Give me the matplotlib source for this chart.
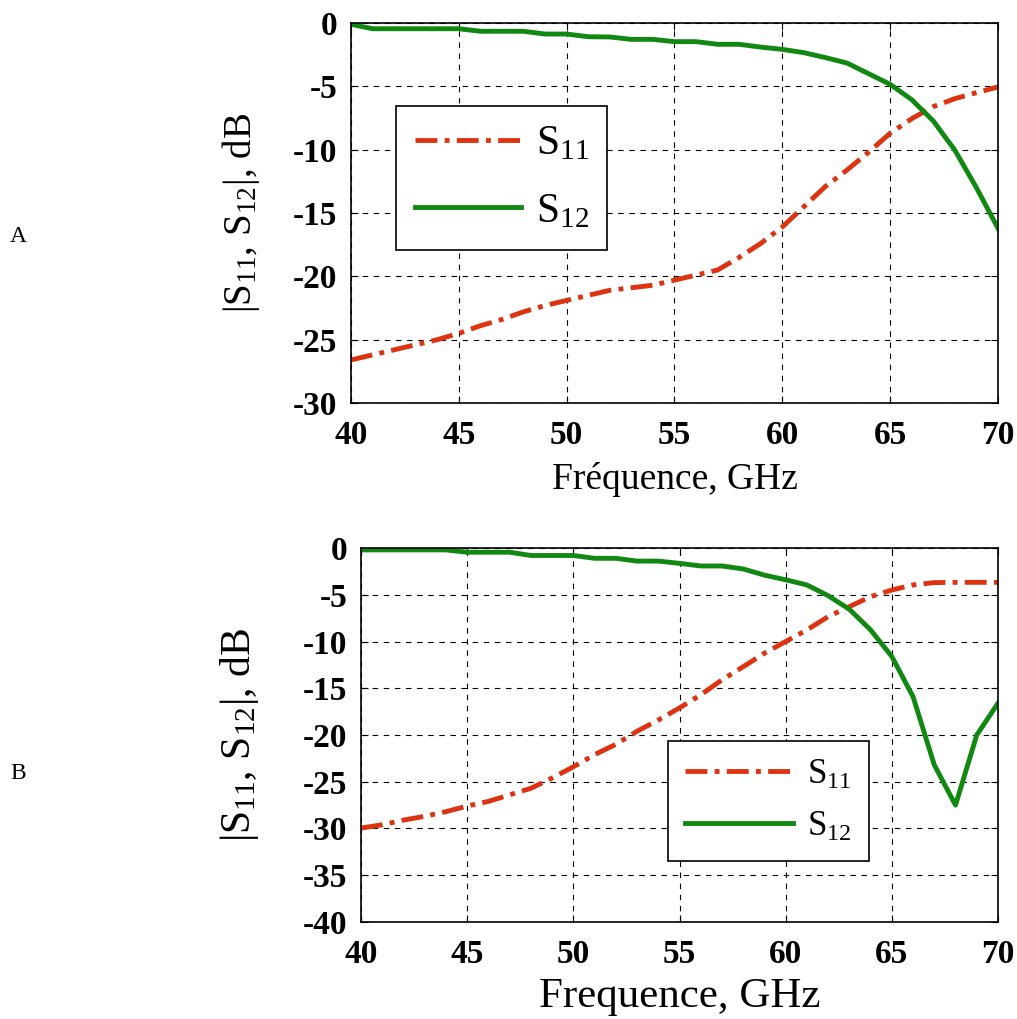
import matplotlib
matplotlib.use('Agg')
import matplotlib.pyplot as plt

plt.rcParams['font.family'] = ['Liberation Serif', 'DejaVu Serif']
plt.rcParams['mathtext.fontset'] = 'custom'
plt.rcParams['mathtext.rm'] = 'Liberation Serif'
plt.rcParams['mathtext.it'] = 'Liberation Serif'
plt.rcParams['axes.unicode_minus'] = False

freq = list(range(40, 71))

# panel A
s11_a = [-26.6, -26.2, -25.8, -25.4, -25.0, -24.5, -23.9, -23.4, -22.8, -22.3,
         -21.9, -21.5, -21.1, -20.9, -20.7, -20.3, -19.9, -19.5, -18.5, -17.4,
         -16.1, -14.5, -12.9, -11.6, -10.2, -8.7, -7.55, -6.6, -5.97, -5.5, -5.05]
s12_a = [-0.1, -0.45, -0.45, -0.45, -0.45, -0.45, -0.65, -0.65, -0.65, -0.87,
         -0.87, -1.08, -1.1, -1.29, -1.29, -1.47, -1.47, -1.68, -1.68, -1.9,
         -2.08, -2.34, -2.73, -3.16, -4.0, -4.84, -6.05, -7.73, -10.04, -13.0, -16.2]

# panel B
s11_b = [-29.95, -29.6, -29.1, -28.7, -28.2, -27.6, -27.1, -26.4, -25.7, -24.6,
         -23.4, -22.1, -21.0, -19.6, -18.4, -17.1, -15.7, -14.1, -12.7, -11.25,
         -10.0, -8.76, -7.34, -6.27, -5.2, -4.49, -3.95, -3.7, -3.67, -3.67, -3.67]
s12_b = [-0.2, -0.2, -0.2, -0.2, -0.2, -0.45, -0.45, -0.45, -0.8, -0.8,
         -0.8, -1.1, -1.1, -1.4, -1.4, -1.64, -1.92, -1.92, -2.24, -2.9,
         -3.4, -3.95, -5.1, -6.55, -8.76, -11.6, -15.9, -23.2, -27.5, -20.0, -16.6]

red = '#dd3311'
green = '#118811'
dashdot = (0, (4.5, 1.5, 1, 1.5))


def style_axes(ax, ymin, yticks):
    ax.set_xlim(40, 70)
    ax.set_ylim(ymin, 0)
    ax.set_xticks(range(40, 71, 5))
    ax.set_yticks(yticks)
    ax.grid(True, color='black', linestyle=(0, (5, 5)), linewidth=0.8)
    ax.tick_params(direction='in', top=True, right=True, labelsize=24, length=5)
    ax.tick_params(axis='x', pad=12)
    ax.tick_params(axis='y', pad=10)
    for lab in ax.get_xticklabels() + ax.get_yticklabels():
        lab.set_fontweight('bold')
    for sp in ax.spines.values():
        sp.set_linewidth(1.2)


fig = plt.figure(figsize=(10.17, 10.19), dpi=100)

ax1 = fig.add_axes([0.3451, 0.6045, 0.6362, 0.3729])
ax1.plot(freq, s11_a, color=red, linewidth=3.5, linestyle=dashdot, label='S$_{11}$')
ax1.plot(freq, s12_a, color=green, linewidth=3.5, label='S$_{12}$')
style_axes(ax1, -30, range(-30, 1, 5))
ax1.set_xlabel('Fréquence, GHz', fontsize=27, labelpad=8)
ax1.set_ylabel('|S$_{11}$, S$_{12}$|, dB', fontsize=28, labelpad=22)
leg1 = ax1.legend(loc='upper left', bbox_to_anchor=(0.0696, 0.7816), borderaxespad=0,
                  fontsize=30, handlelength=2.55, handletextpad=0.35, fancybox=False,
                  framealpha=1, edgecolor='black', borderpad=0.45, labelspacing=0.7)
leg1.get_frame().set_linewidth(1.2)

ax2 = fig.add_axes([0.355, 0.0952, 0.6263, 0.367])
ax2.plot(freq, s11_b, color=red, linewidth=3.5, linestyle=dashdot, label='S$_{11}$')
ax2.plot(freq, s12_b, color=green, linewidth=3.5, label='S$_{12}$')
style_axes(ax2, -40, range(-40, 1, 5))
ax2.set_xlabel('Frequence, GHz', fontsize=31, labelpad=6)
ax2.set_ylabel('|S$_{11}$, S$_{12}$|, dB', fontsize=30, labelpad=30)
leg2 = ax2.legend(loc='upper left', bbox_to_anchor=(0.482, 0.484), borderaxespad=0,
                  fontsize=25, handlelength=3.1, handletextpad=0.4, fancybox=False,
                  framealpha=1, edgecolor='black', borderpad=0.5, labelspacing=0.55)
leg2.get_frame().set_linewidth(1.2)

fig.text(0.01, 0.763, 'A', fontsize=17)
fig.text(0.01, 0.2355, 'B', fontsize=17)

fig.savefig('out.png', dpi=100)
